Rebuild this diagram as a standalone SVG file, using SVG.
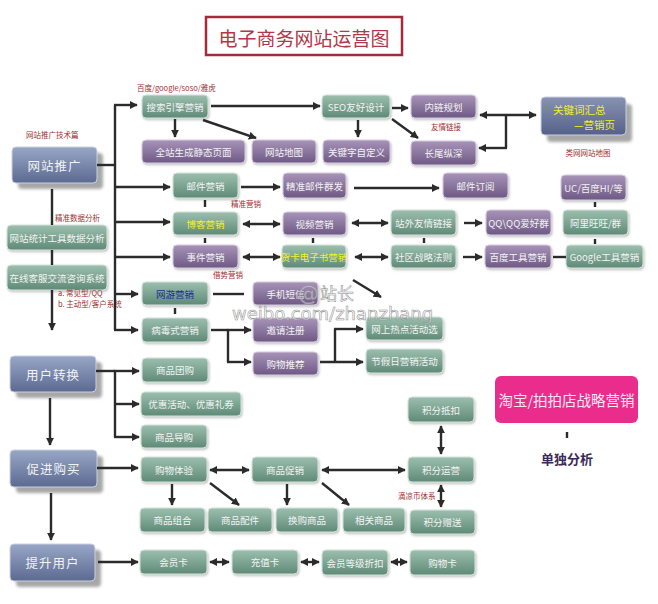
<svg xmlns="http://www.w3.org/2000/svg" width="658" height="604" viewBox="0 0 658 604">
<defs>
<linearGradient id="gG" x1="0" y1="0" x2="0" y2="1"><stop offset="0" stop-color="#9cbfae"/><stop offset="1" stop-color="#5f8a77"/></linearGradient>
<linearGradient id="gP" x1="0" y1="0" x2="0" y2="1"><stop offset="0" stop-color="#a894b8"/><stop offset="1" stop-color="#6e5985"/></linearGradient>
<linearGradient id="gB" x1="0" y1="0" x2="0" y2="1"><stop offset="0" stop-color="#98a6c6"/><stop offset="1" stop-color="#5c6a92"/></linearGradient>
<linearGradient id="gK" x1="0" y1="0" x2="0" y2="1"><stop offset="0" stop-color="#8893b2"/><stop offset="1" stop-color="#56618a"/></linearGradient>
<filter id="ds" x="-10%" y="-10%" width="130%" height="150%"><feDropShadow dx="1" dy="1.5" stdDeviation="1" flood-color="#777" flood-opacity="0.45"/></filter>
<filter id="bl" x="-10%" y="-10%" width="130%" height="140%"><feGaussianBlur stdDeviation="1.6"/></filter>
<marker id="ah" viewBox="0 0 10 10" refX="9" refY="5" markerWidth="8" markerHeight="8" markerUnits="userSpaceOnUse" orient="auto-start-reverse"><path d="M0,0L10,5L0,10z" fill="#2b2b2b"/></marker>
<style>
text{font-family:"Noto Sans CJK SC","Noto Sans",sans-serif}
.g{fill:url(#gG);stroke:#d4e3dc;stroke-width:1;filter:url(#ds)}
.p{fill:url(#gP);stroke:#d6cde0;stroke-width:1;filter:url(#ds)}
.b{fill:url(#gB);stroke:#c9d0e2;stroke-width:1}
.sh{fill:#8a8a8a;filter:url(#bl);opacity:.75}
.t{fill:#f3f3f3;font-size:9.5px;text-anchor:middle;dominant-baseline:central}
.tb{fill:#f3f3f3;font-size:12.5px;text-anchor:middle;dominant-baseline:central;letter-spacing:1px}
.y{fill:#f2f21c}
.lb{fill:#a0302f;font-size:7.5px}
.c line,.c path{stroke:#2b2b2b;stroke-width:2.4;fill:none}
.wm{font-family:"DejaVu Sans",sans-serif;fill:#ffffff;fill-opacity:.45;stroke:#8f8f8f;stroke-width:.55}
</style>
</defs>
<rect width="658" height="604" fill="#ffffff"/>

<g id="title"><rect x="206" y="17" width="196" height="38" fill="#fff" stroke="#a52a3c" stroke-width="2.5"/><text x="304" y="37" font-size="19" fill="#b03848" text-anchor="middle" dominant-baseline="central">电子商务网站运营图</text></g>

<!-- left major nodes -->
<g id="n_wztg"><rect class="sh" x="18" y="153" width="85" height="36" rx="4"/><rect class="b" x="12" y="147" width="85" height="36" rx="4"/><text class="tb" x="54.5" y="165">网站推广</text></g>
<g id="n_tjfx"><rect class="g" x="7" y="225" width="100" height="25" rx="4"/><text class="t" x="57" y="237.5">网站统计工具数据分析</text></g>
<g id="n_kf"><rect class="g" x="7" y="265" width="100" height="25" rx="4"/><text class="t" x="57" y="277.5">在线客服交流咨询系统</text></g>
<g id="n_yhzh"><rect class="sh" x="16" y="362" width="86" height="36" rx="4"/><rect class="b" x="10" y="356" width="86" height="36" rx="4"/><text class="tb" x="53" y="374">用户转换</text></g>
<g id="n_cjgm"><rect class="sh" x="16" y="456" width="87" height="37" rx="4"/><rect class="b" x="10" y="450" width="87" height="37" rx="4"/><text class="tb" x="53.5" y="468.5">促进购买</text></g>
<g id="n_tsyh"><rect class="sh" x="16" y="550" width="85" height="37" rx="4"/><rect class="b" x="10" y="544" width="85" height="37" rx="4"/><text class="tb" x="52.5" y="562.5">提升用户</text></g>

<!-- promotion branch -->
<g id="n_ssyq"><rect class="g" x="142" y="95" width="66" height="23" rx="4"/><text class="t" x="175" y="106.5">搜索引擎营销</text></g>
<g id="n_qzsc"><rect class="p" x="142" y="140" width="103" height="23" rx="4"/><text class="t" x="193.5" y="151.5">全站生成静态页面</text></g>
<g id="n_wzdt"><rect class="p" x="252" y="140" width="64" height="23" rx="4"/><text class="t" x="284" y="151.5">网站地图</text></g>
<g id="n_gjzd"><rect class="p" x="323" y="140" width="67" height="23" rx="4"/><text class="t" x="356.5" y="151.5">关键字自定义</text></g>
<g id="n_cwzs"><rect class="p" x="411" y="141" width="65" height="24" rx="4"/><text class="t" x="443.5" y="153">长尾纵深</text></g>
<g id="n_seo"><rect class="g" x="322" y="95" width="68" height="23" rx="4"/><text class="t" x="356" y="106.5">SEO友好设计</text></g>
<g id="n_nlgh"><rect class="p" x="411" y="95" width="65" height="23" rx="4"/><text class="t" x="443.5" y="106.5">内链规划</text></g>
<g id="n_gjc"><rect class="sh" x="547" y="104" width="85" height="38" rx="4"/><rect x="541" y="97" width="85" height="38" rx="4" fill="url(#gK)" stroke="#c9d0e2"/><text x="553" y="109.5" font-size="10.5" class="y" dominant-baseline="central">关键词汇总</text><text x="615" y="124.5" font-size="10.5" class="y" text-anchor="end" dominant-baseline="central">—营销页</text></g>

<g id="n_yjyx"><rect class="g" x="173" y="173" width="65" height="25" rx="4"/><text class="t" x="205.5" y="185.5">邮件营销</text></g>
<g id="n_jzyj"><rect class="p" x="283" y="173" width="63" height="25" rx="4"/><text class="t" x="314.5" y="185.5">精准邮件群发</text></g>
<g id="n_yjdy"><rect class="p" x="443" y="173" width="65" height="25" rx="4"/><text class="t" x="475.5" y="185.5">邮件订阅</text></g>
<g id="n_uc"><rect class="p" x="561" y="175" width="65" height="25" rx="4"/><text class="t" x="593.5" y="187.5">UC/百度HI/等</text></g>

<g id="n_bkyx"><rect class="g" x="173" y="212" width="65" height="23" rx="4"/><text class="t y" x="205.5" y="223.5">博客营销</text></g>
<g id="n_spyx"><rect class="p" x="283" y="212" width="63" height="23" rx="4"/><text class="t" x="314.5" y="223.5">视频营销</text></g>
<g id="n_zwyq"><rect class="g" x="391" y="210" width="65" height="25" rx="4"/><text class="t" x="423.5" y="222.5">站外友情链接</text></g>
<g id="n_qq"><rect class="p" x="486" y="210" width="65" height="25" rx="4"/><text class="t" x="518.5" y="222.5">QQ\QQ爱好群</text></g>
<g id="n_alww"><rect class="g" x="563" y="210" width="65" height="25" rx="4"/><text class="t" x="595.5" y="222.5">阿里旺旺/群</text></g>

<g id="n_sjyx"><rect class="p" x="173" y="245" width="65" height="23" rx="4"/><text class="t" x="205.5" y="256.5">事件营销</text></g>
<g id="n_hkdz"><rect class="g" x="282" y="245" width="64" height="23" rx="4"/><text class="t y" x="314" y="256.5" font-size="9">贺卡电子书营销</text></g>
<g id="n_sqzl"><rect class="g" x="391" y="245" width="65" height="23" rx="4"/><text class="t" x="423.5" y="256.5">社区战略法则</text></g>
<g id="n_bdgj"><rect class="p" x="485" y="245" width="66" height="23" rx="4"/><text class="t" x="518" y="256.5">百度工具营销</text></g>
<g id="n_google"><rect class="g" x="566" y="245" width="77" height="23" rx="4"/><text class="t" x="604.5" y="256.5">Google工具营销</text></g>

<g id="n_wyyx"><rect class="g" x="142" y="282" width="66" height="23" rx="4"/><text class="t" x="175" y="293.5" style="fill:#1c2a9c">网游营销</text></g>
<g id="n_sjdx"><rect class="p" x="253" y="282" width="65" height="23" rx="4"/><text class="t" x="285.5" y="293.5">手机短信</text></g>
<g id="n_bdsyx"><rect class="g" x="142" y="318" width="66" height="24" rx="4"/><text class="t" x="175" y="330">病毒式营销</text></g>
<g id="n_yqzc"><rect class="p" x="253" y="318" width="65" height="24" rx="4"/><text class="t" x="285.5" y="330">邀请注册</text></g>
<g id="n_gwtj"><rect class="p" x="253" y="352" width="65" height="23" rx="4"/><text class="t" x="285.5" y="363.5">购物推荐</text></g>
<g id="n_wsrd"><rect class="g" x="366" y="317" width="77" height="23" rx="4"/><text class="t" x="404.5" y="328.5">网上热点活动选</text></g>
<g id="n_jjr"><rect class="g" x="366" y="349" width="77" height="24" rx="4"/><text class="t" x="404.5" y="361">节假日营销活动</text></g>

<!-- conversion -->
<g id="n_sptg"><rect class="g" x="142" y="358" width="66" height="24" rx="4"/><text class="t" x="175" y="370">商品团购</text></g>
<g id="n_yhhd"><rect class="g" x="141" y="392" width="100" height="24" rx="4"/><text class="t" x="191" y="404">优惠活动、优惠礼券</text></g>
<g id="n_spdg"><rect class="g" x="141" y="425" width="66" height="23" rx="4"/><text class="t" x="174" y="436.5">商品导购</text></g>

<!-- purchase -->
<g id="n_gwty"><rect class="g" x="141" y="457" width="66" height="25" rx="4"/><text class="t" x="174" y="469.5">购物体验</text></g>
<g id="n_spcx"><rect class="g" x="252" y="457" width="66" height="25" rx="4"/><text class="t" x="285" y="469.5">商品促销</text></g>
<g id="n_jfyy"><rect class="g" x="408" y="457" width="66" height="25" rx="4"/><text class="t" x="441" y="469.5">积分运营</text></g>
<g id="n_jfdk"><rect class="g" x="408" y="397" width="66" height="25" rx="4"/><text class="t" x="441" y="409.5">积分抵扣</text></g>
<g id="n_spzh"><rect class="g" x="140" y="508" width="65" height="24" rx="4"/><text class="t" x="172.5" y="520">商品组合</text></g>
<g id="n_sppj"><rect class="g" x="208" y="508" width="64" height="24" rx="4"/><text class="t" x="240" y="520">商品配件</text></g>
<g id="n_hgsp"><rect class="g" x="276" y="508" width="62" height="24" rx="4"/><text class="t" x="307" y="520">换购商品</text></g>
<g id="n_xgsp"><rect class="g" x="343" y="508" width="62" height="24" rx="4"/><text class="t" x="374" y="520">相关商品</text></g>
<g id="n_jfzs"><rect class="g" x="410" y="510" width="65" height="24" rx="4"/><text class="t" x="442.5" y="522">积分赠送</text></g>

<!-- user upgrade -->
<g id="n_hyk"><rect class="g" x="140" y="550" width="67" height="24" rx="4"/><text class="t" x="173.5" y="562">会员卡</text></g>
<g id="n_czk"><rect class="g" x="232" y="550" width="66" height="24" rx="4"/><text class="t" x="265" y="562">充值卡</text></g>
<g id="n_hydj"><rect class="g" x="322" y="550" width="66" height="25" rx="4"/><text class="t" x="355" y="562.5">会员等级折扣</text></g>
<g id="n_gwk"><rect class="g" x="410" y="550" width="65" height="25" rx="4"/><text class="t" x="442.5" y="562.5">购物卡</text></g>

<g id="n_taobao"><rect x="495" y="376" width="143" height="47" rx="6" fill="#ea2d8c"/><text x="566.5" y="399.5" font-size="14.5" fill="#fde8f2" text-anchor="middle" dominant-baseline="central">淘宝/拍拍店战略营销</text></g>
<g id="n_ddfx"><text x="567" y="458" font-size="13" font-weight="bold" fill="#3b2a55" text-anchor="middle" dominant-baseline="central">单独分析</text></g>

<!-- labels -->
<g id="labels">
<text class="lb" x="137" y="91">百度/google/soso/雅虎</text>
<text class="lb" x="26" y="138">网站推广技术篇</text>
<text class="lb" x="446" y="130" text-anchor="middle">友情链接</text>
<text class="lb" x="588" y="156" text-anchor="middle">类网网站地图</text>
<text class="lb" x="246" y="207" text-anchor="middle">精准营销</text>
<text class="lb" x="55" y="221">精准数据分析</text>
<text class="lb" x="228" y="278" text-anchor="middle">借势营销</text>
<text class="lb" x="58" y="295.5" font-size="6.3">a. 常见型/QQ</text>
<text class="lb" x="58" y="306.5" font-size="6.3">b. 主动型/客户系统</text>
<text class="lb" x="398" y="499">滴凉币体系</text>
</g>

<!-- connectors -->
<g id="connectors" class="c">
<line x1="52" y1="189" x2="52" y2="225"/>
<line x1="52" y1="250" x2="52" y2="265"/>
<line x1="52" y1="290" x2="52" y2="330" marker-end="url(#ah)"/>
<line x1="50" y1="398" x2="50" y2="445" marker-end="url(#ah)"/>
<line x1="51" y1="493" x2="51" y2="540" marker-end="url(#ah)"/>
<line x1="97" y1="165" x2="115" y2="165"/>
<line x1="115" y1="105" x2="115" y2="330"/>
<line x1="114" y1="105" x2="137" y2="105" marker-end="url(#ah)"/>
<line x1="115" y1="187" x2="170" y2="187" marker-end="url(#ah)"/>
<line x1="115" y1="222" x2="170" y2="222" marker-end="url(#ah)"/>
<line x1="115" y1="257" x2="170" y2="257" marker-end="url(#ah)"/>
<line x1="115" y1="294" x2="138" y2="294" marker-end="url(#ah)"/>
<line x1="114" y1="330" x2="138" y2="330" marker-end="url(#ah)"/>
<line x1="211" y1="106" x2="320" y2="106" marker-end="url(#ah)"/>
<line x1="175" y1="119" x2="175" y2="137" marker-end="url(#ah)"/>
<line x1="203" y1="120" x2="256" y2="138" marker-end="url(#ah)"/>
<line x1="392" y1="108" x2="408" y2="108" marker-end="url(#ah)"/>
<line x1="358" y1="120" x2="358" y2="137" marker-end="url(#ah)"/>
<line x1="392" y1="119" x2="418" y2="138" marker-end="url(#ah)"/>
<line x1="480" y1="115" x2="536" y2="115" marker-start="url(#ah)" marker-end="url(#ah)"/>
<line x1="506" y1="115" x2="506" y2="148"/>
<line x1="507" y1="148" x2="479" y2="148" marker-end="url(#ah)"/>
<line x1="241" y1="187" x2="280" y2="187" marker-end="url(#ah)"/>
<line x1="354" y1="188" x2="439" y2="188" marker-end="url(#ah)"/>
<line x1="205" y1="200" x2="205" y2="207"/>
<line x1="205" y1="238" x2="205" y2="243"/>
<line x1="313" y1="238" x2="313" y2="243"/>
<line x1="424" y1="238" x2="424" y2="243"/>
<line x1="595" y1="202" x2="595" y2="207"/>
<line x1="595" y1="239" x2="595" y2="244"/>
<line x1="175" y1="308" x2="175" y2="314"/>
<line x1="243" y1="224" x2="280" y2="224" marker-start="url(#ah)" marker-end="url(#ah)"/>
<line x1="352" y1="223" x2="388" y2="223" marker-start="url(#ah)" marker-end="url(#ah)"/>
<line x1="464" y1="223" x2="482" y2="223" marker-end="url(#ah)"/>
<line x1="243" y1="257" x2="280" y2="257" marker-start="url(#ah)" marker-end="url(#ah)"/>
<line x1="355" y1="257" x2="388" y2="257" marker-start="url(#ah)" marker-end="url(#ah)"/>
<line x1="463" y1="257" x2="482" y2="257" marker-end="url(#ah)"/>
<line x1="553" y1="257" x2="566" y2="257"/>
<line x1="213" y1="294" x2="244" y2="294"/>
<line x1="353" y1="280" x2="381" y2="297" marker-end="url(#ah)"/>
<line x1="211" y1="330" x2="228" y2="330"/>
<line x1="227" y1="330" x2="251" y2="330" marker-end="url(#ah)"/>
<line x1="228" y1="330" x2="228" y2="362"/>
<line x1="227" y1="362" x2="251" y2="362" marker-end="url(#ah)"/>
<line x1="320" y1="362" x2="363" y2="362" marker-end="url(#ah)"/>
<line x1="335" y1="362" x2="335" y2="329"/>
<line x1="334" y1="329" x2="363" y2="329" marker-end="url(#ah)"/>
<line x1="96" y1="371" x2="115" y2="371"/>
<line x1="115" y1="371" x2="115" y2="437"/>
<line x1="114" y1="371" x2="139" y2="371" marker-end="url(#ah)"/>
<line x1="115" y1="404" x2="139" y2="404" marker-end="url(#ah)"/>
<line x1="114" y1="437" x2="139" y2="437" marker-end="url(#ah)"/>
<line x1="97" y1="468" x2="138" y2="468" marker-end="url(#ah)"/>
<line x1="210" y1="470" x2="249" y2="470" marker-start="url(#ah)" marker-end="url(#ah)"/>
<line x1="322" y1="470" x2="405" y2="470" marker-start="url(#ah)" marker-end="url(#ah)"/>
<line x1="441" y1="426" x2="441" y2="454" marker-start="url(#ah)" marker-end="url(#ah)"/>
<line x1="441" y1="485" x2="441" y2="507" marker-start="url(#ah)" marker-end="url(#ah)"/>
<line x1="172" y1="484" x2="172" y2="505" marker-end="url(#ah)"/>
<line x1="210" y1="483" x2="239" y2="505" marker-end="url(#ah)"/>
<line x1="287" y1="484" x2="287" y2="505" marker-end="url(#ah)"/>
<line x1="322" y1="483" x2="349" y2="505" marker-end="url(#ah)"/>
<line x1="98" y1="562" x2="138" y2="562" marker-end="url(#ah)"/>
<line x1="210" y1="562" x2="229" y2="562" marker-start="url(#ah)" marker-end="url(#ah)"/>
<line x1="301" y1="562" x2="319" y2="562" marker-start="url(#ah)" marker-end="url(#ah)"/>
<line x1="391" y1="562" x2="407" y2="562" marker-start="url(#ah)" marker-end="url(#ah)"/>
<line x1="567" y1="432" x2="567" y2="438"/>
</g>

<g id="watermark">
<text class="wm" x="298" y="301" font-size="21">@</text>
<text class="wm" x="320" y="300" font-size="17" style="font-family:'Noto Sans CJK SC',sans-serif">站长</text>
<text class="wm" x="232" y="320" font-size="18">weibo.com/zhanzhang</text>
</g>
</svg>
